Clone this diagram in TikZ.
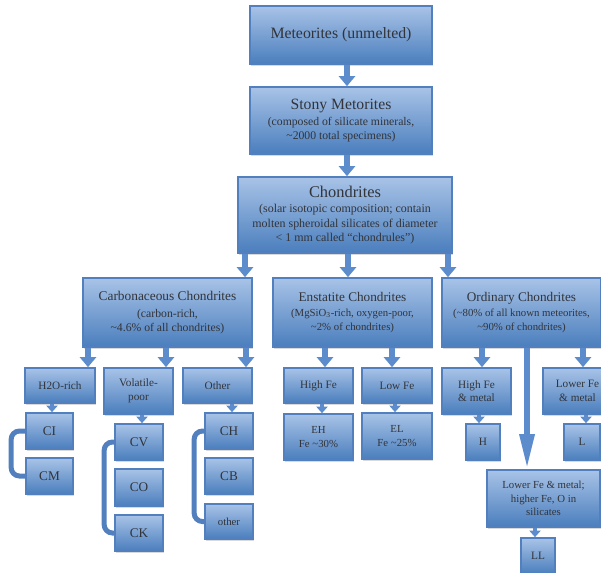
\documentclass[tikz,border=0pt]{standalone}
\usepackage{fontspec}
\setmainfont{Liberation Serif}
\usetikzlibrary{arrows.meta, shadows}

\definecolor{boxtop}{RGB}{168,195,231}
\definecolor{boxmid}{RGB}{122,162,215}
\definecolor{boxbottom}{RGB}{74,126,189}
\definecolor{boxedge}{RGB}{82,128,190}
\definecolor{flowblue}{RGB}{92,140,204}
\definecolor{labelgray}{RGB}{50,52,58}

\begin{document}
\begin{tikzpicture}[x=0.3mm, y=-0.3mm,
    box/.style={draw=boxedge, line width=0.5mm, top color=boxtop, middle color=boxmid,
        bottom color=boxbottom, text=labelgray, align=center, inner sep=1pt,
        drop shadow={shadow xshift=0.4mm, shadow yshift=-0.7mm, opacity=0.3}},
    boxsize/.style 2 args={minimum width=#1*0.3mm, minimum height=#2*0.3mm},
    bigfont/.style={font=\fontsize{13.5}{16}\selectfont},
    midfont/.style={font=\fontsize{11.3}{13}\selectfont},
    subfont/.style={font=\fontsize{9.6}{11.5}\selectfont},
    smallfont/.style={font=\fontsize{9.2}{11.5}\selectfont},
    flow/.style={draw=flowblue, line width=2mm, -{Triangle[width=4.8mm, length=3mm]}},
    smallflow/.style={draw=flowblue, line width=1.4mm, -{Triangle[width=3.4mm, length=2mm]}},
    longflow/.style={draw=flowblue, line width=1.8mm, -{Triangle[width=4.2mm, length=10.5mm]}},
    bracket/.style={draw=boxedge, line width=1.5mm, rounded corners=2.5mm}]

    \clip (0,0) rectangle (601,572);

    % top levels
    \node[box, boxsize={182}{58}, bigfont] (meteor) at (341,35) {Meteorites (unmelted)};
    \node[box, boxsize={182}{67}, font=\fontsize{10}{12}\selectfont] (stony) at (341,120.5)
        {{\fontsize{13.4}{16}\selectfont Stony Metorites}\\[1pt]
         (composed of silicate minerals,\\
         \textasciitilde2000 total specimens)};
    \node[box, boxsize={214}{76}, font=\fontsize{10.2}{12}\selectfont] (chond) at (345,215)
        {{\fontsize{14}{16}\selectfont Chondrites}\\[1pt]
         (solar isotopic composition; contain\\
         molten spheroidal silicates of diameter\\ < 1 mm called ``chondrules'')};

    % chondrite groups
    \node[box, boxsize={169}{69}, font=\fontsize{10}{12}\selectfont] (carb) at (167.5,312.5)
        {{\fontsize{11.4}{14}\selectfont Carbonaceous Chondrites}\\[2pt]
         (carbon-rich,\\ \textasciitilde4.6\% of all chondrites)};
    \node[box, boxsize={159}{69}, font=\fontsize{9.2}{11.5}\selectfont] (enst) at (352.5,312.5)
        {{\fontsize{11.3}{14}\selectfont Enstatite Chondrites}\\[1pt]
         (MgSiO\textsubscript{3}-rich, oxygen-poor,\\
         \textasciitilde2\% of chondrites)};
    \node[box, boxsize={159}{69}, font=\fontsize{9.2}{11.5}\selectfont] (ord) at (521.5,312.5)
        {{\fontsize{11.3}{14}\selectfont Ordinary Chondrites}\\[1pt]
         (\textasciitilde80\% of all known meteorites,\\
         \textasciitilde90\% of chondrites)};

    % carbonaceous classes
    \node[box, boxsize={70}{35}, subfont] (h2o) at (60,385.5) {H2O-rich};
    \node[box, boxsize={69}{46}, subfont] (volatile) at (138.5,391) {Volatile-\\poor};
    \node[box, boxsize={69}{35}, subfont] (other) at (217.5,385.5) {Other};
    \node[box, boxsize={47}{36}, midfont] (ci) at (49.5,431) {CI};
    \node[box, boxsize={47}{36}, midfont] (cm) at (49.5,476) {CM};
    \node[box, boxsize={48}{36}, midfont] (cv) at (139,442) {CV};
    \node[box, boxsize={48}{37}, midfont] (co) at (139,487.5) {CO};
    \node[box, boxsize={48}{36}, midfont] (ck) at (139,533) {CK};
    \node[box, boxsize={48}{36}, midfont] (ch) at (229,431) {CH};
    \node[box, boxsize={48}{36}, midfont] (cb) at (229,476) {CB};
    \node[box, boxsize={48}{35}, smallfont] (cother) at (229,521.5) {other};

    % enstatite classes
    \node[box, boxsize={69}{35}, subfont] (highfe) at (318.5,385.5) {High Fe};
    \node[box, boxsize={70}{35}, subfont] (lowfe) at (397,385.5) {Low Fe};
    \node[box, boxsize={69}{46}, smallfont] (eh) at (318.5,437) {EH\\ Fe \textasciitilde30\%};
    \node[box, boxsize={70}{46}, smallfont] (el) at (397,436) {EL\\ Fe \textasciitilde25\%};

    % ordinary classes
    \node[box, boxsize={69}{46}, subfont] (hfemetal) at (476.5,391) {High Fe\\ \& metal};
    \node[box, boxsize={69}{46}, subfont] (lfemetal) at (577.5,391) {Lower Fe\\ \& metal};
    \node[box, boxsize={34}{36}, subfont] (hgroup) at (483,442) {H};
    \node[box, boxsize={36}{36}, subfont] (lgroup) at (582,442) {L};
    \node[box, boxsize={113}{57}, smallfont] (lfesil) at (543.5,498.5)
        {Lower Fe \& metal;\\ higher Fe, O in\\ silicates};
    \node[box, boxsize={34}{36}, subfont] (llgroup) at (538,556) {LL};

    % arrows
    \draw[flow] (347,0 |- meteor.south) -- (347,0 |- stony.north);
    \draw[flow] (347,0 |- stony.south) -- (347,0 |- chond.north);
    \draw[flow] (245,0 |- chond.south) -- (245,0 |- carb.north);
    \draw[flow] (348,0 |- chond.south) -- (348,0 |- enst.north);
    \draw[flow] (448,0 |- chond.south) -- (448,0 |- ord.north);
    \draw[flow] (88,0 |- carb.south) -- (88,0 |- h2o.north);
    \draw[flow] (166,0 |- carb.south) -- (166,0 |- volatile.north);
    \draw[flow] (246,0 |- carb.south) -- (246,0 |- other.north);
    \draw[flow] (325,0 |- enst.south) -- (325,0 |- highfe.north);
    \draw[flow] (392,0 |- enst.south) -- (392,0 |- lowfe.north);
    \draw[flow] (482,0 |- ord.south) -- (482,0 |- hfemetal.north);
    \draw[flow] (583,0 |- ord.south) -- (583,0 |- lfemetal.north);
    \draw[longflow] (527,0 |- ord.south) -- (527,0 |- lfesil.north);
    \draw[smallflow] (52,0 |- h2o.south) -- (52,0 |- ci.north);
    \draw[smallflow] (142,0 |- volatile.south) -- (142,0 |- cv.north);
    \draw[smallflow] (232,0 |- other.south) -- (232,0 |- ch.north);
    \draw[smallflow] (322,0 |- highfe.south) -- (322,0 |- eh.north);
    \draw[smallflow] (395,0 |- lowfe.south) -- (395,0 |- el.north);
    \draw[smallflow] (479,0 |- hfemetal.south) -- (479,0 |- hgroup.north);
    \draw[smallflow] (586,0 |- lfemetal.south) -- (586,0 |- lgroup.north);
    \draw[smallflow] (535,0 |- lfesil.south) -- (535,0 |- llgroup.north);

    % brackets
    \draw[bracket] (ci.west) -- ++(-14,0) |- (cm.west);
    \draw[bracket] (cv.west) -- ++(-10,0) |- (ck.west);
    \draw[bracket] (ch.west) -- ++(-10,0) |- (cother.west);
\end{tikzpicture}
\end{document}
